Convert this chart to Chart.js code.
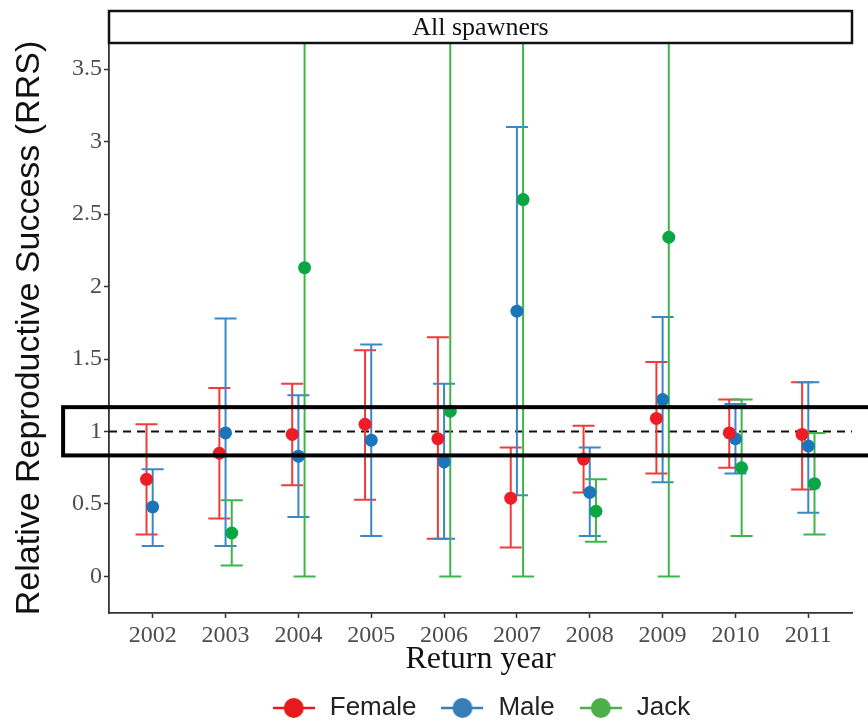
<!DOCTYPE html>
<html>
<head>
<meta charset="utf-8">
<style>
  html, body { margin: 0; padding: 0; background: #fff; }
  #wrap { width: 868px; height: 722px; }
</style>
<script src="https://cdn.jsdelivr.net/npm/chart.js@4.4.1/dist/chart.umd.min.js"></script>
</head>
<body>
<div id="wrap"><canvas id="chart" width="868" height="722"></canvas></div>
<script>
// Return years (x categories)
const years = [2002, 2003, 2004, 2005, 2006, 2007, 2008, 2009, 2010, 2011];
const yTicks = [0, 0.5, 1, 1.5, 2, 2.5, 3, 3.5];

// RRS estimates with lower / upper bounds
const female   = [0.67, 0.85, 0.98, 1.05, 0.95, 0.54, 0.81, 1.09, 0.99, 0.98];
const femaleLo = [0.29, 0.40, 0.63, 0.53, 0.26, 0.20, 0.58, 0.71, 0.75, 0.60];
const femaleHi = [1.05, 1.30, 1.33, 1.56, 1.65, 0.89, 1.04, 1.48, 1.22, 1.34];

const male   = [0.48, 0.99, 0.83, 0.94, 0.79, 1.83, 0.58, 1.22, 0.95, 0.90];
const maleLo = [0.21, 0.21, 0.41, 0.28, 0.26, 0.56, 0.28, 0.65, 0.71, 0.44];
const maleHi = [0.74, 1.78, 1.25, 1.60, 1.33, 3.10, 0.89, 1.79, 1.19, 1.34];

// upper bounds of some jack intervals run off the top of the panel
const jack   = [null, 0.30, 2.13, null, 1.14, 2.60, 0.45, 2.34, 0.75, 0.64];
const jackLo = [null, 0.075, 0, null, 0, 0, 0.24, 0, 0.28, 0.29];
const jackHi = [null, 0.525, 4.5, null, 4.5, 4.5, 0.67, 4.5, 1.22, 0.99];

const refLine = 1;
// highlighted band around RRS = 1 (drawn as a thick open box)
const boxY = [0.835, 1.168];
const boxX = [2000.77, 2012.2];

const groups = [
  { label: 'Female', est: female, lo: femaleLo, hi: femaleHi, dodge: -0.085, point: '#ee1c24', bar: '#f23a3a', key: '#e41a1c' },
  { label: 'Male',   est: male,   lo: maleLo,   hi: maleHi,   dodge: 0,      point: '#1b75bb', bar: '#3a88c8', key: '#377eb8' },
  { label: 'Jack',   est: jack,   lo: jackLo,   hi: jackHi,   dodge: 0.085,  point: '#0aa643', bar: '#3cb54a', key: '#4daf4a' }
];

const serif = "'Liberation Serif', 'Times New Roman', serif";
const sans = "'Liberation Sans', Arial, sans-serif";

function seriesPoints(g) {
  return years
    .map((yr, i) => ({ x: yr + g.dodge, y: g.est[i] }))
    .filter(p => p.y !== null);
}

function legendKey(color) {
  const c = document.createElement('canvas');
  c.width = 42;
  c.height = 22;
  const ctx = c.getContext('2d');
  ctx.strokeStyle = color;
  ctx.lineWidth = 2.5;
  ctx.beginPath();
  ctx.moveTo(0, 11);
  ctx.lineTo(42, 11);
  ctx.stroke();
  ctx.fillStyle = color;
  ctx.beginPath();
  ctx.arc(21, 11, 10, 0, Math.PI * 2);
  ctx.fill();
  return c;
}
const keys = groups.map(g => legendKey(g.key));

const errorBars = {
  id: 'errorBars',
  beforeDatasetsDraw(chart) {
    const { ctx, chartArea, scales: { x, y } } = chart;
    ctx.save();
    ctx.beginPath();
    ctx.rect(chartArea.left, chartArea.top, chartArea.right - chartArea.left, chartArea.bottom - chartArea.top);
    ctx.clip();

    // dashed reference line
    ctx.strokeStyle = '#111';
    ctx.lineWidth = 2;
    ctx.setLineDash([8, 6]);
    ctx.beginPath();
    ctx.moveTo(chartArea.left, y.getPixelForValue(refLine));
    ctx.lineTo(chartArea.right, y.getPixelForValue(refLine));
    ctx.stroke();
    ctx.setLineDash([]);

    const cap = 11;
    groups.forEach(g => {
      ctx.strokeStyle = g.bar;
      ctx.lineWidth = 2;
      years.forEach((yr, i) => {
        if (g.est[i] === null) return;
        const px = x.getPixelForValue(yr + g.dodge);
        const top = y.getPixelForValue(g.hi[i]);
        const bot = y.getPixelForValue(g.lo[i]);
        ctx.beginPath();
        ctx.moveTo(px, top);
        ctx.lineTo(px, bot);
        ctx.moveTo(px - cap, top);
        ctx.lineTo(px + cap, top);
        ctx.moveTo(px - cap, bot);
        ctx.lineTo(px + cap, bot);
        ctx.stroke();
      });
    });
    ctx.restore();
  },
  afterDraw(chart) {
    const { ctx, chartArea, scales: { x, y } } = chart;
    ctx.save();
    // strip label
    const stripTop = 11;
    ctx.fillStyle = '#fff';
    ctx.fillRect(chartArea.left, stripTop, chartArea.right - chartArea.left, chartArea.top - stripTop);
    ctx.strokeStyle = '#111';
    ctx.lineWidth = 2.5;
    ctx.strokeRect(chartArea.left, stripTop, chartArea.right - chartArea.left, chartArea.top - stripTop);
    ctx.fillStyle = '#111';
    ctx.font = '26px ' + serif;
    ctx.textAlign = 'center';
    ctx.textBaseline = 'middle';
    ctx.fillText('All spawners', (chartArea.left + chartArea.right) / 2, (stripTop + chartArea.top) / 2 + 1);

    // thick box around RRS = 1
    const l = x.getPixelForValue(boxX[0]);
    const r = x.getPixelForValue(boxX[1]);
    const t = y.getPixelForValue(boxY[1]);
    const b = y.getPixelForValue(boxY[0]);
    ctx.strokeStyle = '#000';
    ctx.lineWidth = 4;
    ctx.strokeRect(l, t, r - l, b - t);
    ctx.restore();
  }
};

new Chart(document.getElementById('chart'), {
  type: 'scatter',
  data: {
    datasets: groups.map(g => ({
      label: g.label,
      data: seriesPoints(g),
      pointRadius: 6.5,
      pointHoverRadius: 6.5,
      pointBorderWidth: 0,
      pointBackgroundColor: g.point,
      borderColor: g.key,
      backgroundColor: g.key
    }))
  },
  options: {
    responsive: false,
    animation: false,
    layout: { padding: { top: 43, right: 16, left: 0, bottom: -9 } },
    plugins: {
      tooltip: { enabled: false },
      legend: {
        position: 'bottom',
        fullSize: false,
        labels: {
          usePointStyle: true,
          pointStyleWidth: 46,
          padding: 23,
          color: '#222',
          font: { family: sans, size: 26 },
          generateLabels(chart) {
            return Chart.defaults.plugins.legend.labels.generateLabels(chart)
              .map((item, i) => ({ ...item, pointStyle: keys[i] }));
          }
        }
      }
    },
    scales: {
      x: {
        type: 'linear',
        min: 2001.4,
        max: 2011.6,
        afterBuildTicks(scale) { scale.ticks = years.map(v => ({ value: v })); },
        afterFit(scale) { scale.height = 59; },
        grid: { drawOnChartArea: false, tickLength: 5, tickColor: '#333', tickWidth: 1.5 },
        border: { display: true, color: '#333', width: 1.8 },
        ticks: {
          color: '#4d4d4d',
          padding: 3,
          maxRotation: 0,
          font: { family: serif, size: 24 },
          callback: v => String(v)
        },
        title: {
          display: true,
          text: 'Return year',
          color: '#111',
          font: { family: serif, size: 32, lineHeight: 1 },
          padding: { top: 0, bottom: -4 }
        }
      },
      y: {
        min: -0.252,
        max: 3.68,
        afterBuildTicks(scale) { scale.ticks = yTicks.map(v => ({ value: v })); },
        afterFit(scale) { scale.width = 109; },
        grid: { drawOnChartArea: false, tickLength: 5, tickColor: '#333', tickWidth: 1.5 },
        border: { display: true, color: '#333', width: 1.8 },
        ticks: {
          color: '#4d4d4d',
          padding: 2,
          font: { family: serif, size: 24 },
          callback: v => String(v)
        },
        title: {
          display: true,
          text: 'Relative Reproductive Success (RRS)',
          color: '#111',
          font: { family: sans, size: 34, lineHeight: 1.2 },
          padding: { top: 9, bottom: 0 }
        }
      }
    }
  },
  plugins: [errorBars]
});
</script>
</body>
</html>
